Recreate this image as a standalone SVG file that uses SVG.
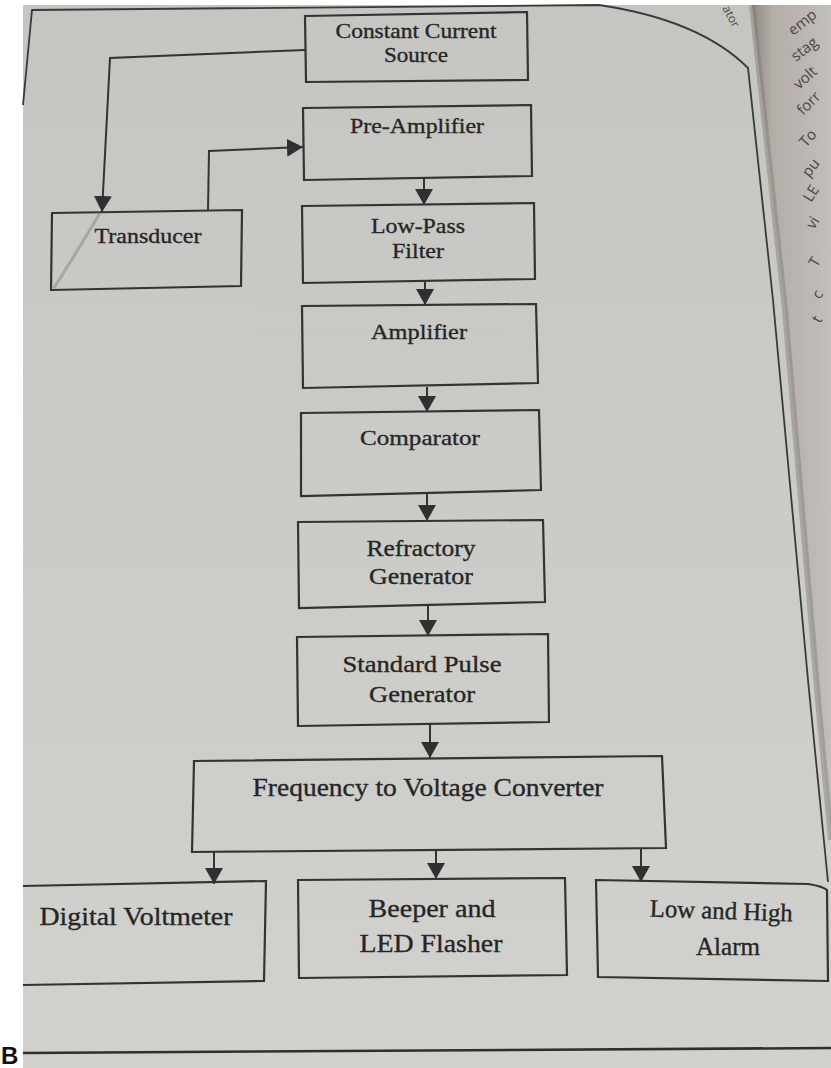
<svg xmlns="http://www.w3.org/2000/svg" width="831" height="1068" viewBox="0 0 831 1068">
  <defs>
    <linearGradient id="paper" x1="0" y1="0" x2="0" y2="1">
      <stop offset="0" stop-color="#c5c6c2"/>
      <stop offset="0.5" stop-color="#cbccc8"/>
      <stop offset="1" stop-color="#d1d2ce"/>
    </linearGradient>
    <linearGradient id="facing" x1="0" y1="0" x2="1" y2="0">
      <stop offset="0" stop-color="#8f8883"/>
      <stop offset="0.25" stop-color="#b3ada8"/>
      <stop offset="1" stop-color="#c2beba"/>
    </linearGradient>
    <marker id="head" markerUnits="userSpaceOnUse" markerWidth="18" markerHeight="18" refX="16" refY="9" orient="auto">
      <path d="M0,0 L16,9 L0,18 Z" fill="#303030"/>
    </marker>
    <style>
      .box { fill: none; stroke: #333; stroke-width: 2.2; stroke-linejoin: miter; }
      .wire { fill: none; stroke: #333; stroke-width: 2; marker-end: url(#head); }
      .frame { fill: none; stroke: #3a3a3a; stroke-width: 1.8; }
      .lbl { font-family: "Liberation Serif", "Times New Roman", serif; fill: #262626; stroke: #262626; stroke-width: 0.35; text-anchor: middle; }
      .side { font-family: "Open Sans", "Noto Sans", sans-serif; fill: #4a4744; font-size: 15px; }
    </style>
  </defs>

  <!-- paper -->
  <rect x="0" y="0" width="831" height="1068" fill="#ffffff"/>
  <rect x="23" y="5" width="808" height="1063" fill="url(#paper)"/>
  <!-- facing page beyond the gutter -->
  <polygon points="752,5 831,5 831,840 818,700 785,310" fill="url(#facing)"/>
  <path d="M752,5 L785,310 L818,700 L831,840" fill="none" stroke="#7f7873" stroke-width="6" opacity="0.45"/>

  <!-- facing page text fragments -->
  <g id="facing-text" class="side">
    <text x="793" y="36" transform="rotate(-38 793 36)">emp</text>
    <text x="796" y="62" transform="rotate(-38 796 62)">stag</text>
    <text x="799" y="90" transform="rotate(-42 799 90)">volt</text>
    <text x="803" y="116" transform="rotate(-45 803 116)">forr</text>
    <text x="806" y="148" transform="rotate(-48 806 148)">To</text>
    <text x="809" y="178" transform="rotate(-52 809 178)">pu</text>
    <text x="811" y="203" transform="rotate(-58 811 203)">LE</text>
    <text x="814" y="230" transform="rotate(-58 814 230)">vi</text>
    <text x="817" y="268" transform="rotate(-60 817 268)">T</text>
    <text x="820" y="300" transform="rotate(-60 820 300)">c</text>
    <text x="820" y="324" transform="rotate(-60 820 324)">t</text>
    <text x="722" y="8" font-size="12" transform="rotate(62 722 8)">ator</text>
  </g>

  <!-- figure frame and bottom rule -->
  <path class="frame" d="M23,105 L32,10 L599,5 Q700,20 748,68 L773,300 L808,680 L828,882"/>
  <line x1="23" y1="1053" x2="831" y2="1048" stroke="#2f2f2f" stroke-width="2.6"/>

  <!-- connectors -->
  <g id="connectors">
    <polyline class="wire" points="305,50 110,58 102,212"/>
    <polyline class="wire" points="208,210 209,151 303,147"/>
    <line class="wire" x1="424" y1="178" x2="424" y2="205"/>
    <line class="wire" x1="425" y1="282" x2="425" y2="305"/>
    <line class="wire" x1="427" y1="387" x2="427" y2="412"/>
    <line class="wire" x1="427" y1="494" x2="427" y2="521"/>
    <line class="wire" x1="428" y1="606" x2="428" y2="636"/>
    <line class="wire" x1="430" y1="725" x2="430" y2="758"/>
    <line class="wire" x1="214" y1="851" x2="214" y2="884"/>
    <line class="wire" x1="436" y1="849" x2="436" y2="879"/>
    <line class="wire" x1="641" y1="848" x2="641" y2="882"/>
  </g>

  <!-- blocks -->
  <g id="constant-current-source">
    <polygon class="box" points="305,16 527,12 528,80 306,82"/>
    <text class="lbl" x="416" y="38" font-size="21" textLength="161" lengthAdjust="spacingAndGlyphs">Constant Current</text>
    <text class="lbl" x="416" y="62" font-size="21" textLength="64" lengthAdjust="spacingAndGlyphs">Source</text>
  </g>

  <g id="pre-amplifier">
    <polygon class="box" points="303,108 531,105 532,176 304,180"/>
    <text class="lbl" x="417" y="133" font-size="22" textLength="134" lengthAdjust="spacingAndGlyphs">Pre-Amplifier</text>
  </g>

  <g id="transducer">
    <polygon class="box" points="52,213 242,210 241,286 51,290"/>
    <path d="M54,288 Q78,250 100,213" fill="none" stroke="#8b8b88" stroke-width="3" opacity="0.55"/>
    <text class="lbl" x="148" y="243" font-size="21" textLength="107" lengthAdjust="spacingAndGlyphs">Transducer</text>
  </g>

  <g id="low-pass-filter">
    <polygon class="box" points="302,206 534,203 535,279 303,283"/>
    <text class="lbl" x="418" y="233" font-size="22" textLength="94" lengthAdjust="spacingAndGlyphs">Low-Pass</text>
    <text class="lbl" x="418" y="258" font-size="22" textLength="52" lengthAdjust="spacingAndGlyphs">Filter</text>
  </g>

  <g id="amplifier">
    <polygon class="box" points="302,306 536,304 538,383 303,388"/>
    <text class="lbl" x="419" y="339" font-size="22" textLength="96" lengthAdjust="spacingAndGlyphs">Amplifier</text>
  </g>

  <g id="comparator">
    <polygon class="box" points="301,413 539,410 541,490 301,496"/>
    <text class="lbl" x="420" y="445" font-size="22" textLength="120" lengthAdjust="spacingAndGlyphs">Comparator</text>
  </g>

  <g id="refractory-generator">
    <polygon class="box" points="298,522 543,520 545,602 299,608"/>
    <text class="lbl" x="421" y="556" font-size="23" textLength="109" lengthAdjust="spacingAndGlyphs">Refractory</text>
    <text class="lbl" x="421" y="584" font-size="23" textLength="104" lengthAdjust="spacingAndGlyphs">Generator</text>
  </g>

  <g id="standard-pulse-generator">
    <polygon class="box" points="297,637 548,634 549,722 298,726"/>
    <text class="lbl" x="422" y="672" font-size="23" textLength="159" lengthAdjust="spacingAndGlyphs">Standard Pulse</text>
    <text class="lbl" x="422" y="702" font-size="23" textLength="106" lengthAdjust="spacingAndGlyphs">Generator</text>
  </g>

  <g id="frequency-to-voltage-converter">
    <polygon class="box" points="194,761 662,756 666,848 192,852"/>
    <text class="lbl" x="428" y="796" font-size="26" textLength="351" lengthAdjust="spacingAndGlyphs">Frequency to Voltage Converter</text>
  </g>

  <g id="digital-voltmeter">
    <path class="box" d="M23,886 L266,881 L264,981 L23,985"/>
    <text class="lbl" x="136" y="925" font-size="26" textLength="193" lengthAdjust="spacingAndGlyphs">Digital Voltmeter</text>
  </g>

  <g id="beeper-led-flasher">
    <polygon class="box" points="298,880 565,878 567,975 299,978"/>
    <text class="lbl" x="432" y="917" font-size="26" textLength="127" lengthAdjust="spacingAndGlyphs">Beeper and</text>
    <text class="lbl" x="431" y="952" font-size="26" textLength="143" lengthAdjust="spacingAndGlyphs">LED Flasher</text>
  </g>

  <g id="low-high-alarm">
    <path class="box" d="M596,880 L808,884 Q822,886 827,890 L828,981 L598,977 Z"/>
    <text class="lbl" x="721" y="919" font-size="25" textLength="143" lengthAdjust="spacingAndGlyphs" transform="rotate(2 721 919)">Low and High</text>
    <text class="lbl" x="728" y="955" font-size="25" textLength="64" lengthAdjust="spacingAndGlyphs">Alarm</text>
  </g>

  <!-- figure letter in the margin -->
  <text x="1" y="1064" font-family="Liberation Sans, Arial, sans-serif" font-weight="bold" font-size="24" fill="#111">B</text>
</svg>
